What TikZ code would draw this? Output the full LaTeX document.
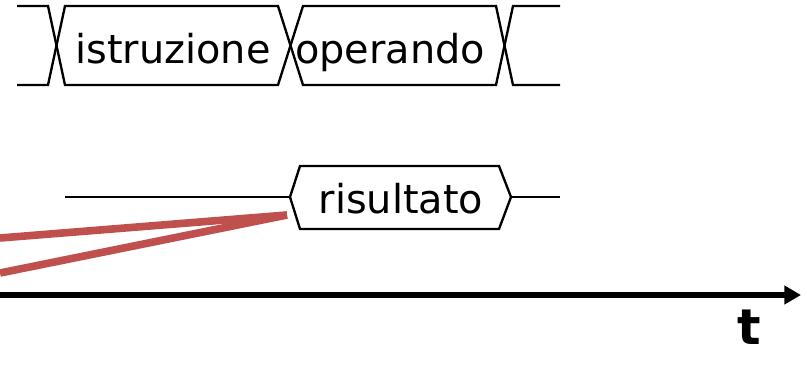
\documentclass[tikz,border=0pt]{standalone}
\usepackage{fontspec}
\setmainfont{DejaVu Sans}
\usetikzlibrary{arrows.meta}

\definecolor{linkred}{RGB}{192,80,77}

\tikzset{
  wave/.style={line width=2pt, line join=miter},
  buslabel/.style={font=\fontsize{34}{40}\selectfont, inner sep=0pt, anchor=base},
  linkline/.style={draw=linkred, line width=6.5pt},
  timeaxis/.style={line width=5.4pt, -{Triangle[length=0.5cm, width=0.54cm]}},
}

\begin{document}
\begin{tikzpicture}[x=0.03cm, y=-0.03cm]
    \useasboundingbox (0,0) rectangle (807,380);

    % Upper bus: two crossing traces give the X transitions
    \draw[wave] (17,6) -- (48,6) -- (65,85) -- (278,85) -- (303,6) -- (496,6) -- (513,85) -- (560,85);
    \draw[wave] (17,85) -- (48,85) -- (65,6) -- (278,6) -- (303,85) -- (496,85) -- (513,6) -- (560,6);
    \node[buslabel] (istr) at (173,63) {istruzione};
    \node[buslabel] (oper) at (390,63) {operando};

    % Lower bus: idle line, then the result slot
    \coordinate (ris-w) at (290,197);
    \coordinate (ris-e) at (511,197);
    \draw[wave] (65,197) -- (ris-w);
    \draw[wave] (ris-w) -- (300,166) -- (499,166) -- (ris-e) -- (499,229) -- (300,229) -- cycle;
    \draw[wave] (ris-e) -- (560,197);
    \node[buslabel] (ris) at (401,213) {risultato};

    % Red links into the result slot
    \coordinate (ris-in) at (287,215);
    \coordinate (src-a) at (0,238);
    \coordinate (src-b) at (0,273);
    \draw[linkline] (src-a) -- (ris-in);
    \draw[linkline] (src-b) -- (ris-in);

    % Time axis
    \coordinate (t-start) at (0,295);
    \coordinate (t-end) at (801,295);
    \draw[timeaxis] (t-start) -- (t-end);
    \node[font=\bfseries\fontsize{42}{48}\selectfont, inner sep=0pt] (tlab) at (749,327) {t};

\end{tikzpicture}
\end{document}
